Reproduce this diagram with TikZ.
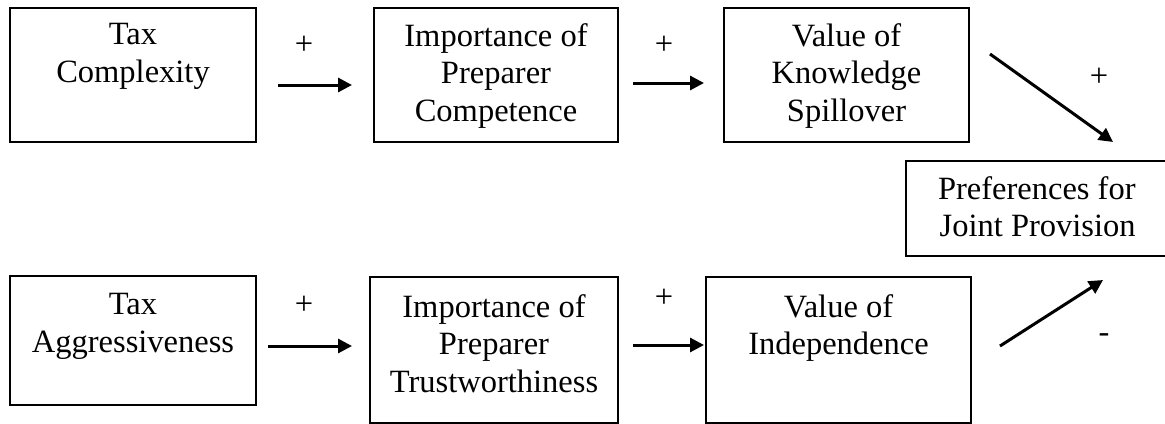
\documentclass[tikz,border=0pt]{standalone}
\usepackage{fontspec}
\setmainfont{Liberation Serif}
\usetikzlibrary{positioning,arrows.meta}

\tikzset{
  box/.style={draw, line width=1pt, inner sep=0pt, anchor=north west},
  lbl/.style={inner sep=0pt, align=center, font=\fontsize{16.25}{18.75}\selectfont},
  sgn/.style={inner sep=0pt, font=\fontsize{16.25}{18.75}\selectfont},
  arr/.style={line width=1.5pt, -{Triangle[length=7pt,width=7pt]}}
}

\begin{document}
\begin{tikzpicture}[x=0.5pt,y=-0.5pt]
\useasboundingbox (0,0) rectangle (1165,423);
\clip (0,0) rectangle (1165,423);
% top row
\node[box, minimum width=123pt, minimum height=67pt] (tc) at (9,7) {};
\node[box, minimum width=122pt, minimum height=67pt] (ipc) at (373,7) {};
\node[box, minimum width=122.5pt, minimum height=67pt] (vks) at (723,7) {};
\node[lbl, below=8pt of tc.north] (tctxt) {Tax\\Complexity};
\node[lbl, below=8pt of ipc.north] (ipctxt) {Importance of\\Preparer\\Competence};
\node[lbl, below=8pt of vks.north] (vkstxt) {Value of\\Knowledge\\Spillover};
% right
\node[box, minimum width=140pt, minimum height=47.5pt] (pjp) at (905,160) {};
\node[lbl, align=right, anchor=north east] (pjptxt) at (1136,176) {Preferences for\\Joint Provision};
% bottom row
\node[box, minimum width=123pt, minimum height=64.5pt] (ta) at (9,275) {};
\node[box, minimum width=124pt, minimum height=73pt] (ipt) at (369,276) {};
\node[box, minimum width=132.5pt, minimum height=73pt] (vi) at (705,276) {};
\node[lbl, below=9pt of ta.north] (tatxt) {Tax\\Aggressiveness};
\node[lbl, below=9pt of ipt.north] (ipttxt) {Importance of\\Preparer\\Trustworthiness};
\node[lbl, below=9pt of vi.north] (vitxt) {Value of\\Independence};
% arrows
\draw[arr] ([shift={(21,10)}]tc.east) -- ([shift={(-21,10)}]ipc.west);
\draw[arr] ([shift={(14,8)}]ipc.east) -- ([shift={(-19,8)}]vks.west);
\draw[arr] ([shift={(20,-21)}]vks.east) -- ([shift={(67,-18)}]pjp.north);
\draw[arr] ([shift={(11,5.5)}]ta.east) -- ([shift={(-17,-4)}]ipt.west);
\draw[arr] ([shift={(14,-5)}]ipt.east) -- ([shift={(-1,-5)}]vi.west);
\draw[arr] ([shift={(28,-4)}]vi.east) -- ([shift={(57,23)}]pjp.south);
% signs
\node[sgn] (s1) at (304,45) {+};
\node[sgn] (s2) at (664,45) {+};
\node[sgn] (s3) at (1099,77) {+};
\node[sgn] (s4) at (304,305) {+};
\node[sgn] (s5) at (664,298) {+};
\node[sgn] (s6) at (1104,338) {-};
\end{tikzpicture}
\end{document}
